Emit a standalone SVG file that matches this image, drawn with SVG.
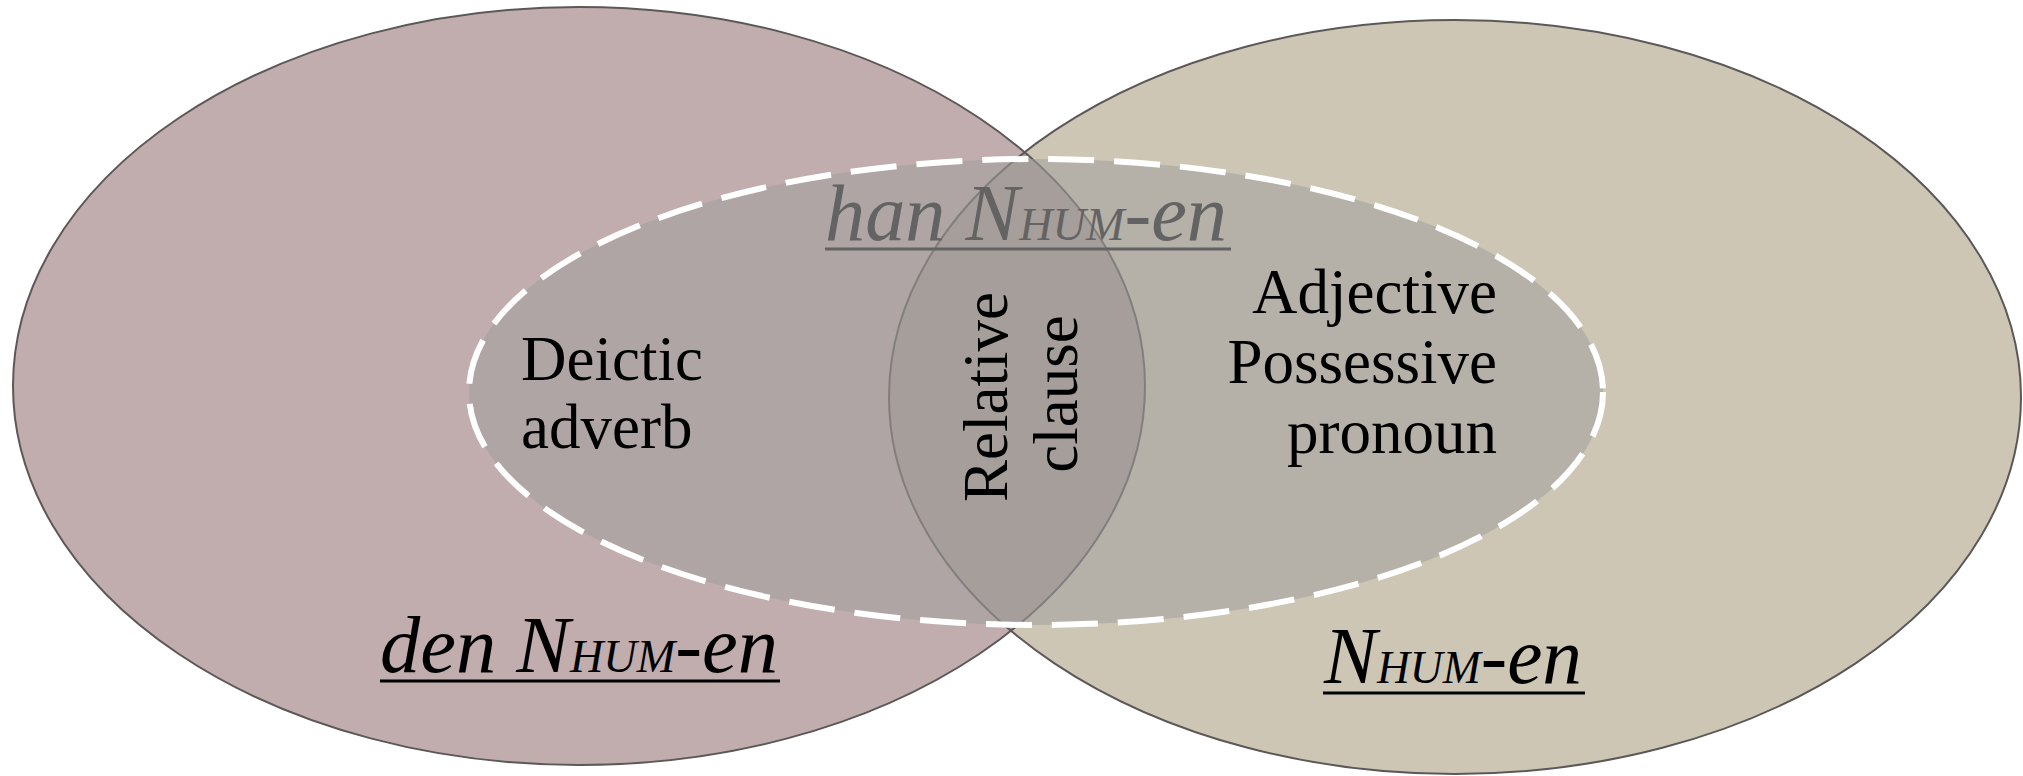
<svg xmlns="http://www.w3.org/2000/svg" width="2023" height="776" viewBox="0 0 2023 776">
<style>
.ring{fill:none;stroke:#5c5858;stroke-width:2}
.body{font-family:"Liberation Serif",serif;font-size:63px;fill:#000}
.lab{font-family:"Liberation Serif",serif;font-style:italic;font-size:80px}
.sc{font-size:46px}
</style>
<defs>
<clipPath id="clipLeft"><ellipse cx="579" cy="386" rx="566" ry="379"/></clipPath>
</defs>
<rect width="2023" height="776" fill="#ffffff"/>
<g id="set-den">
<ellipse cx="579" cy="386" rx="566" ry="379" fill="#c1adae"/>
</g>
<g id="set-n">
<ellipse cx="1455" cy="397" rx="566" ry="377" fill="#cec6b4"/>
</g>
<g id="overlap">
<ellipse cx="1455" cy="397" rx="566" ry="377" fill="#ae9e94" clip-path="url(#clipLeft)"/>
</g>
<g id="outlines">
<ellipse class="ring" cx="579" cy="386" rx="566" ry="379"/>
<ellipse class="ring" cx="1455" cy="397" rx="566" ry="377"/>
</g>
<g id="set-han">
<ellipse cx="1036" cy="392" rx="567" ry="233" fill="#a09e9e" fill-opacity="0.55" stroke="#ffffff" stroke-width="6" stroke-dasharray="46 20"/>
<text class="lab" x="825" y="240" fill="#636363" textLength="402" lengthAdjust="spacingAndGlyphs">han N<tspan class="sc">HUM</tspan>-en</text>
<line x1="825" y1="249" x2="1231" y2="249" stroke="#636363" stroke-width="3"/>
</g>
<g id="label-den">
<text class="lab" x="380" y="672" fill="#000" textLength="398" lengthAdjust="spacingAndGlyphs">den N<tspan class="sc">HUM</tspan>-en</text>
<line x1="380" y1="681" x2="780" y2="681" stroke="#000" stroke-width="3"/>
</g>
<g id="label-n">
<text class="lab" x="1324" y="683" fill="#000" textLength="258" lengthAdjust="spacingAndGlyphs">N<tspan class="sc">HUM</tspan>-en</text>
<line x1="1323" y1="693" x2="1585" y2="693" stroke="#000" stroke-width="3"/>
</g>
<g id="deictic">
<text class="body" x="521" y="380">Deictic</text>
<text class="body" x="521" y="448">adverb</text>
</g>
<g id="relative">
<text class="body" text-anchor="middle" transform="translate(1007,397) rotate(-90)">Relative</text>
<text class="body" text-anchor="middle" transform="translate(1077,394) rotate(-90)">clause</text>
</g>
<g id="adjective">
<text class="body" x="1497" y="313" text-anchor="end">Adjective</text>
<text class="body" x="1497" y="383" text-anchor="end">Possessive</text>
<text class="body" x="1497" y="453" text-anchor="end">pronoun</text>
</g>
</svg>
